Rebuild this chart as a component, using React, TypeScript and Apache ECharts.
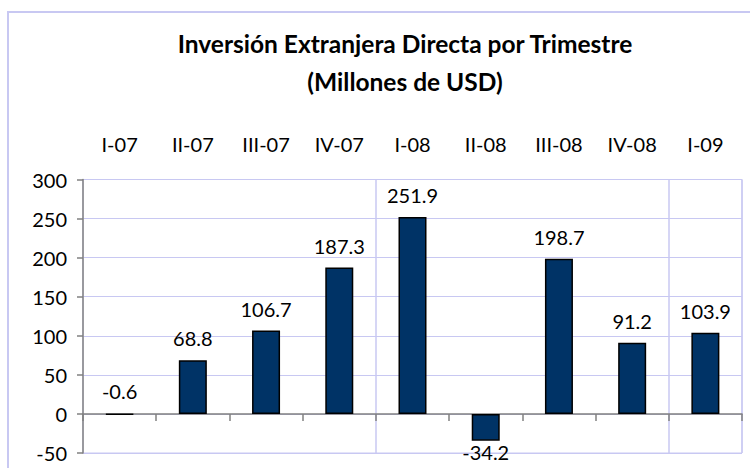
import React, { useEffect, useRef } from "react";
import * as echarts from "echarts";

const categories = ["I-07", "II-07", "III-07", "IV-07", "I-08", "II-08", "III-08", "IV-08", "I-09"];
const values = [-0.6, 68.8, 106.7, 187.3, 251.9, -34.2, 198.7, 91.2, 103.9];
const titleLines = ["Inversión Extranjera Directa por Trimestre", "(Millones de USD)"];
const yTicks = { min: -50, max: 300, interval: 50 };

const FONT = "Lato";
const LAVENDER = "#c8c8f2";
const NAVY = "#003366";

export default function App() {
  const ref = useRef<HTMLDivElement>(null);
  useEffect(() => {
    if (!ref.current) return;
    const chart = echarts.init(ref.current, undefined, { renderer: "svg" });
    const data = values.map((v) => ({
      value: v,
      label:
        v < -5
          ? { position: "bottom", distance: 1 }
          : { position: "top", distance: 12 },
    }));
    chart.setOption({
      animation: false,
      backgroundColor: "#ffffff",
      graphic: [
        {
          type: "rect",
          shape: { x: 8, y: 12, width: 780, height: 500 },
          style: { fill: "none", stroke: LAVENDER, lineWidth: 2 },
          silent: true,
          z: -1,
        },
        {
          type: "text",
          x: 405,
          y: 43,
          style: {
            text: titleLines[0],
            font: `bold 24.5px ${FONT}`,
            fill: "#000",
            textAlign: "center",
            textVerticalAlign: "middle",
          },
        },
        {
          type: "text",
          x: 405,
          y: 81,
          style: {
            text: titleLines[1],
            font: `bold 24.5px ${FONT}`,
            fill: "#000",
            textAlign: "center",
            textVerticalAlign: "middle",
          },
        },
      ],
      grid: {
        left: 83,
        right: 8,
        top: 179.5,
        bottom: 15,
        show: true,
        borderColor: LAVENDER,
        borderWidth: 1,
        backgroundColor: "transparent",
        containLabel: false,
      },
      xAxis: [
        {
          type: "category",
          data: categories,
          position: "top",
          axisLine: { show: false, onZero: false },
          axisTick: { show: false },
          axisLabel: {
            margin: 26,
            fontFamily: FONT,
            fontSize: 20,
            lineHeight: 20,
            color: "#000",
            interval: 0,
          },
          splitLine: {
            show: true,
            interval: (i: number) => i === 4 || i === 8,
            lineStyle: { color: LAVENDER, width: 1.5 },
          },
        },
        {
          type: "category",
          data: categories,
          position: "bottom",
          axisLine: { show: true, onZero: true, lineStyle: { color: "#808080", width: 1.5 } },
          axisTick: { show: true, length: 7, interval: 0, lineStyle: { color: "#808080", width: 1.5 } },
          axisLabel: { show: false },
          splitLine: { show: false },
        },
      ],
      yAxis: {
        type: "value",
        min: yTicks.min,
        max: yTicks.max,
        interval: yTicks.interval,
        axisLine: { show: true, lineStyle: { color: "#808080", width: 1.5 } },
        axisTick: { show: true, length: 6, lineStyle: { color: "#808080", width: 1.5 } },
        axisLabel: { margin: 16, fontFamily: FONT, fontSize: 20, color: "#000" },
        splitLine: { show: true, lineStyle: { color: LAVENDER, width: 1 } },
      },
      series: [
        {
          type: "bar",
          xAxisIndex: 1,
          data,
          barWidth: 28,
          itemStyle: { color: NAVY, borderColor: "#000", borderWidth: 1.5 },
          label: {
            show: true,
            fontFamily: FONT,
            fontSize: 20,
            color: "#000",
            formatter: (p: any) => Number(p.value).toFixed(1),
          },
        },
      ],
    });
    return () => chart.dispose();
  }, []);
  return (
    <div
      ref={ref}
      style={{ position: "absolute", left: 0, top: 0, width: 750, height: 468 }}
    />
  );
}
